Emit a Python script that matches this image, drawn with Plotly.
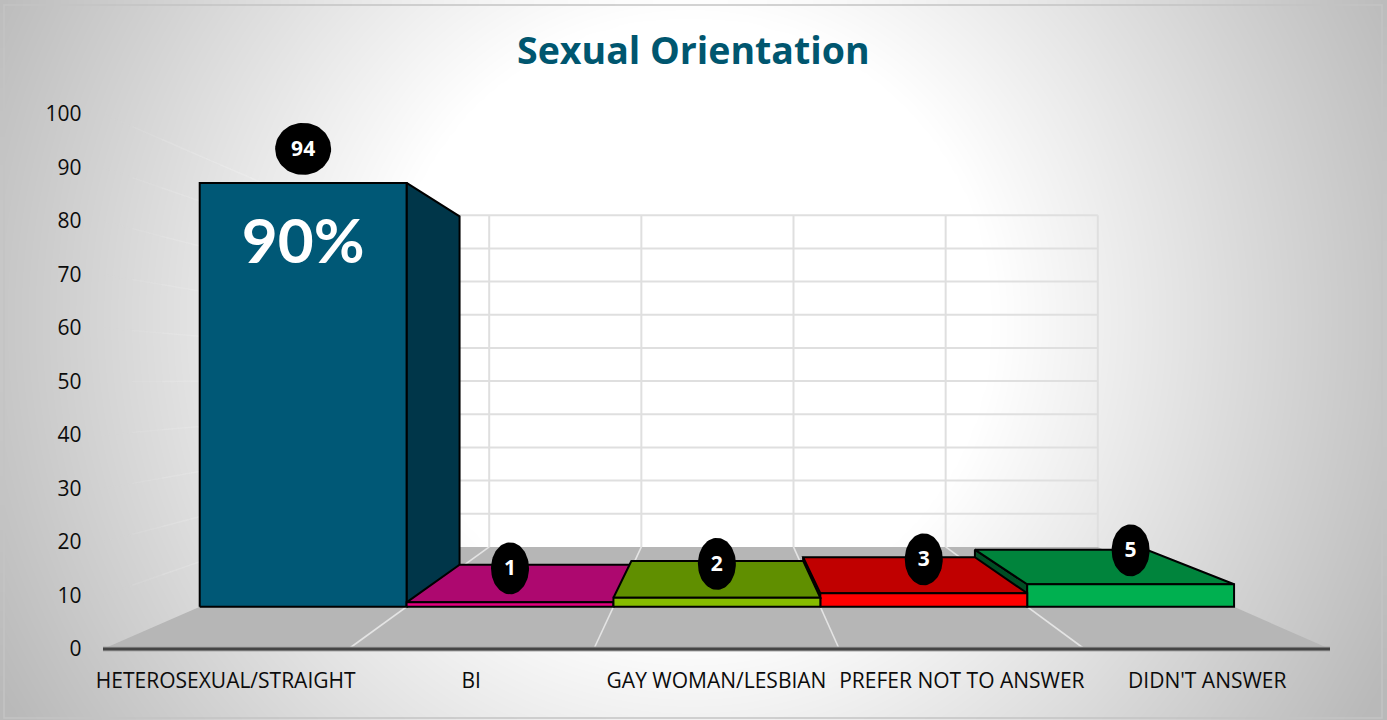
import numpy as np
import plotly.graph_objects as go

# ---- data ----
categories = ["HETEROSEXUAL/STRAIGHT", "BI", "GAY WOMAN/LESBIAN", "PREFER NOT TO ANSWER", "DIDN'T ANSWER"]
values = [94, 1, 2, 3, 5]
value_ticks = list(range(0, 101, 10))
big_label = "90%"
title_text = "Sexual Orientation"
front_colors = ["#005876", "#e4007f", "#86bc00", "#ff0000", "#00b050"]
top_colors = ["#00465f", "#ad086f", "#608f00", "#c00000", "#00843c"]
side_colors = ["#003649", "#6d0045", "#3d5a00", "#7a0000", "#004d24"]

# ---- page geometry ----
W, H = 1387, 720
PX0, PX1 = 103, 1330      # value 0..5 categories, pixels
PY0, PY1 = 649, 114       # value 0..100, pixels
UX = (PX1 - PX0) / 5      # px per category
UY = (PY0 - PY1) / 100    # px per value
PAD_X, PAD_Y = 0.03, 1.0  # axis slack so that the floor's front edge is not clipped

# ---- one-point perspective, in axis units ----
VP_X, VP_Y = 2.51, 50.2
S_WALL, S_FRONT, S_BACK = 0.62, 0.843, 0.70


def proj(x, v, s):
    return VP_X + s * (x - VP_X), VP_Y + s * (v - VP_Y)


def quad(pts, fill, line="#000000", lw=2):
    xs, ys = zip(*pts)
    return go.Scatter(x=list(xs) + [xs[0]], y=list(ys) + [ys[0]], mode="lines", fill="toself",
                      fillcolor=fill, line=dict(color=line, width=lw), hoverinfo="skip",
                      showlegend=False, xaxis="x2", yaxis="y2", cliponaxis=False)


traces = []

# ---- background: radial grey gradient across the framed page ----
gx = np.linspace(4, 1382, 140)
gy = np.linspace(5, 718, 72)
GX, GY = np.meshgrid(gx, gy)
R = np.hypot(GX - 690, GY - 320)
Z = np.clip(255 - 0.145 * np.clip(R - 300, 0, None), 185, 255)
traces.append(go.Heatmap(x=gx, y=gy, z=Z, zmin=0, zmax=255, zsmooth="best", showscale=False,
                         colorscale=[[0, "#000000"], [1, "#ffffff"]], hoverinfo="skip",
                         xaxis="x", yaxis="y"))

# ---- floor ----
traces.append(quad([proj(0, 0, 1), proj(5, 0, 1), proj(5, 0, S_WALL), proj(0, 0, S_WALL)],
                   "#b6b6b6", line="rgba(0,0,0,0)", lw=0))


def lines(segs, color, width):
    xs, ys = [], []
    for a, b in segs:
        xs += [a[0], b[0], None]
        ys += [a[1], b[1], None]
    return go.Scatter(x=xs, y=ys, mode="lines", line=dict(color=color, width=width), hoverinfo="skip",
                      showlegend=False, xaxis="x2", yaxis="y2", cliponaxis=False)


# left wall streaks, fading towards the outside
steps = np.linspace(1, S_WALL, 9)
for k in range(8):
    alpha = 0.04 + 0.09 * k
    segs = [(proj(0, v, steps[k]), proj(0, v, steps[k + 1])) for v in value_ticks[1:]]
    traces.append(lines(segs, f"rgba(240,240,240,{alpha:.2f})", 1.5))

# floor dividers
traces.append(lines([(proj(i, 0, 1), proj(i, 0, S_WALL)) for i in range(1, 5)], "#e4e4e4", 1.6))

# back wall grid
segs = [(proj(0, v, S_WALL), proj(5, v, S_WALL)) for v in value_ticks[1:]]
segs += [(proj(i, 0, S_WALL), proj(i, 100, S_WALL)) for i in range(1, 6)]
traces.append(lines(segs, "#dfdfdf", 2))

# front edge of the floor
traces.append(lines([(proj(0, 0, 1), proj(5, 0, 1))], "#a8a8a8", 5))
traces.append(lines([(proj(0, 0, 1), proj(5, 0, 1))], "#454545", 3))

# ---- bars, painted from the outside towards the vanishing point ----
order = sorted(range(len(values)), key=lambda i: -abs(i + 0.5 - VP_X))
for i in order:
    v = values[i]
    x0, x1 = i, i + 1
    if x1 < VP_X:
        traces.append(quad([proj(x1, 0, S_FRONT), proj(x1, v, S_FRONT), proj(x1, v, S_BACK), proj(x1, 0, S_BACK)],
                           side_colors[i]))
    if x0 > VP_X:
        traces.append(quad([proj(x0, 0, S_FRONT), proj(x0, v, S_FRONT), proj(x0, v, S_BACK), proj(x0, 0, S_BACK)],
                           side_colors[i]))
    if v < VP_Y:   # tops above eye level cannot be seen
        traces.append(quad([proj(x0, v, S_FRONT), proj(x1, v, S_FRONT), proj(x1, v, S_BACK), proj(x0, v, S_BACK)],
                           top_colors[i]))
    traces.append(quad([proj(x0, 0, S_FRONT), proj(x1, 0, S_FRONT), proj(x1, v, S_FRONT), proj(x0, v, S_FRONT)],
                       front_colors[i]))

# ---- value badges ----
theta = np.linspace(0, 2 * np.pi, 73)
LIFT = 34 / UY
TEXT_NUDGE = 1.5 / UY
bx, by = [], []
for i, v in enumerate(values):
    cx, cy = proj(i + 0.5, v, S_FRONT)
    cy += LIFT
    rx = (28 if v >= 10 else 19) / UX
    ry = 26 / UY
    traces.append(go.Scatter(x=cx + rx * np.cos(theta), y=cy + ry * np.sin(theta), mode="lines", fill="toself",
                             fillcolor="#000000", line=dict(color="#000000", width=0), hoverinfo="skip",
                             showlegend=False, xaxis="x2", yaxis="y2", cliponaxis=False))
    bx.append(cx)
    by.append(cy - TEXT_NUDGE)
traces.append(go.Scatter(x=bx, y=by, mode="text", text=[str(v) for v in values], textposition="middle center",
                         textfont=dict(family="Open Sans", size=21, color="#ffffff", weight="bold"),
                         hoverinfo="skip", showlegend=False, xaxis="x2", yaxis="y2", cliponaxis=False))

# big share label inside the tallest bar
lx, ly = proj(0.5, values[0], S_FRONT)
ly -= 65 / UY
traces.append(go.Scatter(x=[lx], y=[ly], mode="text", text=[big_label], textposition="middle center",
                         textfont=dict(family="Lato", size=62, color="#ffffff", weight="bold"),
                         hoverinfo="skip", showlegend=False, xaxis="x2", yaxis="y2", cliponaxis=False))

fig = go.Figure(traces)
fig.update_layout(
    width=W, height=H, autosize=False, margin=dict(l=0, r=0, t=0, b=0, pad=0),
    paper_bgcolor="#ffffff", plot_bgcolor="rgba(0,0,0,0)", showlegend=False,
    xaxis=dict(domain=[0, 1], range=[0, W], visible=False, fixedrange=True, automargin=False),
    yaxis=dict(domain=[0, 1], range=[H, 0], visible=False, fixedrange=True, automargin=False),
    xaxis2=dict(domain=[(PX0 - PAD_X * UX) / W, (PX1 + PAD_X * UX) / W], range=[-PAD_X, 5 + PAD_X],
                anchor="y2", showgrid=False, zeroline=False,
                showline=False, tickmode="array", tickvals=[i + 0.5 for i in range(len(categories))],
                ticktext=categories, ticks="outside", ticklen=7, tickcolor="rgba(0,0,0,0)", tickangle=0,
                automargin=False,
                tickfont=dict(family="Open Sans", size=21, color="#0c0c0c"), fixedrange=True),
    yaxis2=dict(domain=[1 - (PY0 + PAD_Y * UY) / H, 1 - PY1 / H], range=[-PAD_Y, 100], anchor="x2",
                showgrid=False, zeroline=False,
                showline=False, tickmode="array", tickvals=value_ticks, ticktext=[str(v) for v in value_ticks],
                ticks="outside", ticklen=9, tickcolor="rgba(0,0,0,0)", automargin=False,
                tickfont=dict(family="Open Sans", size=21, color="#0c0c0c"), fixedrange=True),
    annotations=[dict(text=f"<b>{title_text}</b>", xref="paper", yref="paper", x=693 / W, y=1 - 50 / H,
                      xanchor="center", yanchor="middle", showarrow=False,
                      font=dict(family="Open Sans", size=37.5, color="#00566f"))],
    shapes=[dict(type="rect", xref="x", yref="y", x0=4, x1=1382, y0=5, y1=718,
                 line=dict(color="#c4c4c4", width=1.5), fillcolor="rgba(0,0,0,0)", layer="above")],
)
fig.write_html("out.html", config=dict(displayModeBar=False),
               post_script="document.body.style.margin='0';document.documentElement.style.overflow='hidden';")
